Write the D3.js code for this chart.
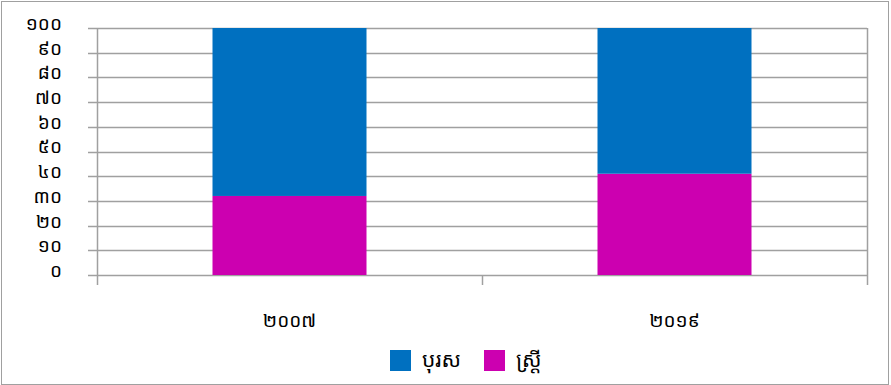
<!DOCTYPE html>
<html>
<head>
<meta charset="utf-8">
<script src="https://cdn.jsdelivr.net/npm/d3@7/dist/d3.min.js"></script>
<style>
  body { margin: 0; background: #fff; }
  svg text { font-family: "Khmer OS", "Noto Sans Khmer", "Noto Sans", "DejaVu Sans", sans-serif; fill: #000; }
</style>
</head>
<body>
<div id="chart"></div>
<script>
// categories and series (percent)
var years = ['២០០៧', '២០១៩'];
var male = [68, 59];
var female = [32, 41];
var seriesNames = ['បុរស', 'ស្ត្រី'];
var seriesColors = ['#0070c0', '#cc00b0'];
var yTicks = [0, 10, 20, 30, 40, 50, 60, 70, 80, 90, 100];
var khmerDigits = ['០', '១', '២', '៣', '៤', '៥', '៦', '៧', '៨', '៩'];

function toKhmer(n) {
  return String(n).split('').map(function(c) { return khmerDigits[+c]; }).join('');
}

(function(d3) {
  'use strict';
  var width = 891;
  var height = 385;
  var margin = {left: 97, right: 24, top: 28, bottom: 110};
  var plotW = width - margin.left - margin.right;
  var plotH = height - margin.top - margin.bottom;

  var svg = d3.select('#chart')
    .append('svg')
    .attr('width', width)
    .attr('height', height);

  // outer frame
  svg.append('rect')
    .attr('x', 1.5).attr('y', 1.5)
    .attr('width', width - 4).attr('height', height - 2)
    .attr('fill', 'none')
    .attr('stroke', '#a0a0a0')
    .attr('stroke-width', 1);

  var g = svg.append('g')
    .attr('transform', 'translate(' + margin.left + ',' + margin.top + ')');

  var x = d3.scaleBand()
    .domain(years)
    .range([0, plotW])
    .paddingInner(0.6)
    .paddingOuter(0.3);
  var xOuter = d3.scaleBand().domain(years).range([0, plotW]);

  var y = d3.scaleLinear().domain([0, 100]).range([plotH, 0]);

  // gridlines
  g.selectAll('.grid')
    .data(yTicks)
    .enter()
    .append('line')
    .attr('x1', -9)
    .attr('x2', plotW)
    .attr('y1', function(d) { return Math.round(y(d)) + 0.5; })
    .attr('y2', function(d) { return Math.round(y(d)) + 0.5; })
    .attr('stroke', '#a0a0a0')
    .attr('stroke-width', 1.5);

  // right border
  g.append('line')
    .attr('x1', plotW + 0.5).attr('x2', plotW + 0.5)
    .attr('y1', y(100)).attr('y2', plotH + 10)
    .attr('stroke', '#a0a0a0').attr('stroke-width', 1.5);

  // y axis line
  g.append('line')
    .attr('x1', 0.5).attr('x2', 0.5)
    .attr('y1', y(100)).attr('y2', plotH + 10)
    .attr('stroke', '#a0a0a0').attr('stroke-width', 1.5);

  // middle x tick
  g.append('line')
    .attr('x1', xOuter.step() + 0.5).attr('x2', xOuter.step() + 0.5)
    .attr('y1', plotH).attr('y2', plotH + 10)
    .attr('stroke', '#a0a0a0').attr('stroke-width', 1.5);

  // stacked bars
  var rows = years.map(function(yr, i) {
    return {year: yr, 'បុរស': male[i], 'ស្ត្រី': female[i]};
  });
  var stack = d3.stack().keys(['ស្ត្រី', 'បុរស']);
  var layers = stack(rows);
  var color = d3.scaleOrdinal().domain(seriesNames).range(seriesColors);

  g.selectAll('.layer')
    .data(layers)
    .enter()
    .append('g')
    .attr('fill', function(d) { return color(d.key); })
    .selectAll('rect')
    .data(function(d) { return d; })
    .enter()
    .append('rect')
    .attr('x', function(d) { return x(d.data.year); })
    .attr('width', x.bandwidth())
    .attr('y', function(d) { return y(d[1]); })
    .attr('height', function(d) { return y(d[0]) - y(d[1]); });

  // y tick labels
  g.selectAll('.ylab')
    .data(yTicks)
    .enter()
    .append('text')
    .attr('x', -35)
    .attr('y', function(d) { return y(d); })
    .attr('dy', '0.1em')
    .attr('text-anchor', 'end')
    .style('font-size', '19px')
    .text(function(d) { return toKhmer(d); });

  // x labels
  g.selectAll('.xlab')
    .data(years)
    .enter()
    .append('text')
    .attr('x', function(d) { return x(d) + x.bandwidth() / 2; })
    .attr('y', plotH + 52)
    .attr('text-anchor', 'middle')
    .style('font-size', '19px')
    .text(function(d) { return d; });

  // legend
  var legendX = [390, 484];
  var legend = svg.selectAll('.legend')
    .data(seriesNames)
    .enter()
    .append('g')
    .attr('transform', function(d, i) { return 'translate(' + legendX[i] + ',350)'; });
  legend.append('rect')
    .attr('width', 21)
    .attr('height', 21)
    .attr('fill', function(d) { return color(d); });
  legend.append('text')
    .attr('x', 32)
    .attr('y', 17)
    .style('font-size', '21px')
    .text(function(d) { return d; });
})(window.d3);
</script>
</body>
</html>
